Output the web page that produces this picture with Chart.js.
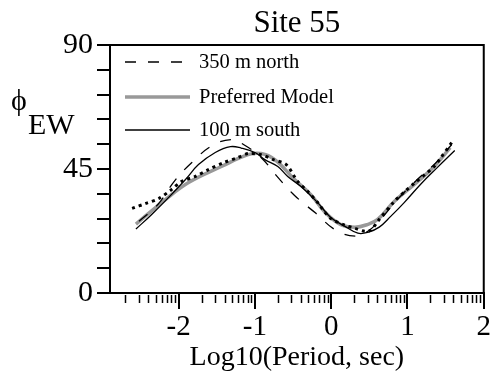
<!DOCTYPE html>
<html><head><meta charset="utf-8">
<script src="https://cdn.jsdelivr.net/npm/chart.js@4/dist/chart.umd.min.js"></script>
<style>html,body{margin:0;padding:0;background:#fff}#wrap{width:492px;height:374px}</style>
</head><body><div id="wrap"><canvas id="c" width="492" height="374"></canvas></div>
<script>
// ---- chart text ----
const chartTitle = 'Site 55';
const xAxisTitle = 'Log10(Period, sec)';
const yTitleMain = '\u03D5';
const yTitleSub = 'EW';
const xMajorTicks = [-2, -1, 0, 1, 2];
const yLabeledTicks = [0, 45, 90];
const seriesNames = ['350 m north', 'Preferred Model', '100 m south', 'Observed'];

// ---- series values (x = log10 period, y = phase in degrees) ----
const xNorth = [-2.52,-2.27,-2.05,-1.83,-1.56,-1.31,-1.15,-0.92,-0.71,-0.48,-0.20,0.06,0.32,0.48,0.66,0.87,1.13,1.39,1.58];
const yNorth = [26.0,32.2,40.8,47.3,53.5,55.7,53.9,49.2,42.3,35.4,28.9,22.8,20.6,22.4,27.1,34.0,41.2,47.7,53.9];

const xModel = [-2.56,-2.17,-1.87,-1.44,-1.09,-0.92,-0.74,-0.48,-0.27,-0.09,0.12,0.31,0.48,0.61,0.83,1.09,1.35,1.56];
const yModel = [25.0,34.0,40.1,45.9,50.2,50.6,48.4,41.2,35.8,29.6,24.9,23.9,24.9,26.7,33.3,39.4,45.9,52.8];

const xSouth = [-2.56,-2.35,-2.13,-1.91,-1.74,-1.52,-1.32,-1.18,-1.00,-0.87,-0.70,-0.57,-0.40,-0.18,-0.01,0.18,0.35,0.48,0.63,0.78,0.96,1.17,1.39,1.62];
const ySouth = [23.2,28.6,34.7,41.2,46.6,51.0,53.1,52.6,51.0,48.4,45.9,42.3,38.7,32.9,27.5,24.2,21.7,22.0,23.9,27.8,32.9,39.4,45.5,51.7];

const xObs = [-2.61,-2.43,-2.26,-2.09,-1.96,-1.78,-1.61,-1.41,-1.22,-1.09,-0.92,-0.76,-0.59,-0.44,-0.31,-0.18,-0.09,-0.01,0.18,0.31,0.44,0.52,0.61,0.83,0.97,1.10,1.23,1.35,1.43,1.58];
const yObs = [30.7,32.5,34.3,37.6,40.5,42.3,44.8,47.3,49.2,50.6,50.2,48.4,46.6,40.5,36.9,32.9,29.6,27.1,24.6,23.5,22.4,22.8,26.0,33.3,36.9,40.1,43.0,45.9,48.8,54.6];

const pts = (xs, ys) => xs.map((x, i) => ({x: x, y: ys[i]}));
const SERIF = 'Liberation Serif';

const decorPlugin = {
  id: 'decor',
  afterDraw(chart) {
    const ctx = chart.ctx, a = chart.chartArea, xs = chart.scales.x;
    ctx.save();
    // box top & right
    ctx.strokeStyle = '#000'; ctx.lineWidth = 2;
    ctx.beginPath();
    ctx.moveTo(a.left - 1, a.top); ctx.lineTo(a.right, a.top); ctx.lineTo(a.right, a.bottom + 1);
    ctx.stroke();
    // minor log ticks on x
    ctx.lineWidth = 1.5;
    for (let d = -3; d <= 1; d++) {
      for (let k = 2; k <= 9; k++) {
        const v = d + Math.log10(k);
        if (v <= xs.min || v >= xs.max) continue;
        const px = Math.round(xs.getPixelForValue(v)) + 0.5;
        ctx.beginPath(); ctx.moveTo(px, a.bottom + 2); ctx.lineTo(px, a.bottom + 10); ctx.stroke();
      }
    }
    // title
    ctx.fillStyle = '#000';
    ctx.font = '31px "' + SERIF + '"';
    ctx.textAlign = 'center'; ctx.textBaseline = 'alphabetic';
    ctx.fillText(chartTitle, (a.left + a.right) / 2, 32);
    // y title with subscript
    ctx.textAlign = 'left';
    ctx.font = '30px "' + SERIF + '", "DejaVu Serif"';
    ctx.fillText(yTitleMain, 11, 110);
    ctx.font = '30px "' + SERIF + '"';
    ctx.fillText(yTitleSub, 28, 134);
    // legend
    const legendY = [62, 97, 130];
    ctx.font = '20.5px "' + SERIF + '"';
    ctx.textBaseline = 'middle';
    for (let i = 0; i < 3; i++) {
      const ds = chart.data.datasets[i];
      ctx.strokeStyle = ds.borderColor; ctx.lineWidth = ds.borderWidth;
      ctx.setLineDash(ds.borderDash || []);
      ctx.beginPath(); ctx.moveTo(125, legendY[i]); ctx.lineTo(190, legendY[i]); ctx.stroke();
      ctx.setLineDash([]);
      ctx.fillText(ds.label, 199, legendY[i] + 1);
    }
    ctx.restore();
  }
};

new Chart(document.getElementById('c'), {
  type: 'line',
  data: {
    datasets: [
      {label: seriesNames[0], data: pts(xNorth, yNorth), borderColor: '#000', borderWidth: 1.3, borderDash: [11, 12], pointRadius: 0, tension: 0.4, fill: false, order: 2},
      {label: seriesNames[1], data: pts(xModel, yModel), borderColor: '#999999', borderWidth: 3.5, pointRadius: 0, tension: 0.4, fill: false, order: 4},
      {label: seriesNames[2], data: pts(xSouth, ySouth), borderColor: '#000', borderWidth: 1.3, pointRadius: 0, tension: 0.4, fill: false, order: 3},
      {label: seriesNames[3], data: pts(xObs, yObs), borderColor: '#000', borderWidth: 3, borderDash: [3, 4], pointRadius: 0, tension: 0.3, fill: false, order: 1}
    ]
  },
  options: {
    responsive: false,
    animation: false,
    devicePixelRatio: 1,
    layout: {padding: {left: 0, right: 5, top: 45, bottom: 0}},
    plugins: {legend: {display: false}, title: {display: false}, tooltip: {enabled: false}},
    scales: {
      x: {
        type: 'linear', min: -2.9, max: 2,
        afterBuildTicks: s => { s.ticks = xMajorTicks.map(v => ({value: v})); },
        afterFit: s => { s.height = 81; },
        ticks: {font: {family: SERIF, size: 29}, color: '#000', padding: 1, maxRotation: 0, autoSkip: false},
        grid: {display: true, drawOnChartArea: false, drawTicks: true, tickLength: 16, color: '#000', lineWidth: 2},
        border: {display: true, color: '#000', width: 2},
        title: {display: true, text: xAxisTitle, font: {family: SERIF, size: 28}, color: '#000', padding: {top: 0, bottom: 0}}
      },
      y: {
        type: 'linear', min: 0, max: 90,
        afterBuildTicks: s => { const t = []; for (let v = 0; v <= 90; v += 9) t.push({value: v}); s.ticks = t; },
        afterFit: s => { s.width = 110; },
        ticks: {font: {family: SERIF, size: 30}, color: '#000', padding: 4, autoSkip: false,
                callback: v => yLabeledTicks.includes(v) ? String(v) : ''},
        grid: {display: true, drawOnChartArea: false, drawTicks: true, tickLength: 13, color: '#000', lineWidth: 2},
        border: {display: true, color: '#000', width: 2}
      }
    }
  },
  plugins: [decorPlugin]
});
</script>
</body></html>
